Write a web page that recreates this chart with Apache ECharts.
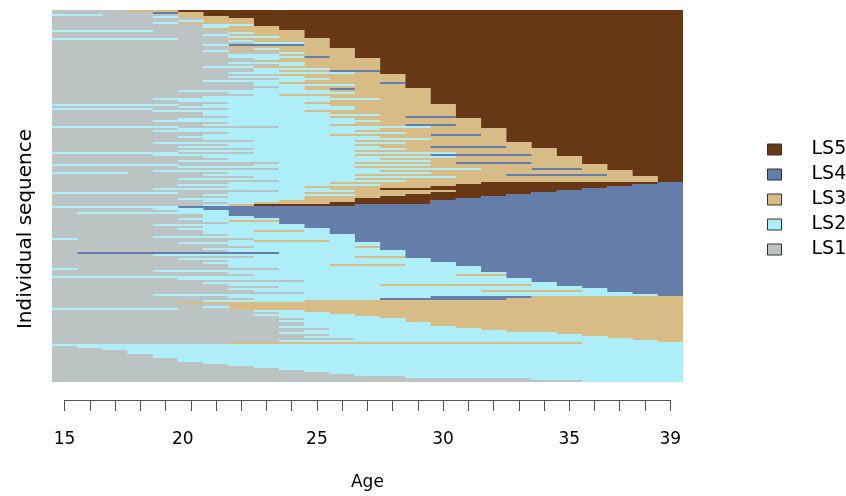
<!DOCTYPE html>
<html>
<head>
<meta charset="utf-8">
<script src="https://cdn.jsdelivr.net/npm/echarts@6/dist/echarts.min.js"></script>
<style>
  html, body { margin: 0; padding: 0; background: #fff; }
  #chart { width: 846px; height: 496px; }
</style>
</head>
<body>
<div id="chart"></div>
<script>
// states and their colours
const stateNames = ['LS1', 'LS2', 'LS3', 'LS4', 'LS5'];
const stateColors = ['#bcc3c3', '#aeeef8', '#d8bc85', '#647dab', '#673716'];
const legendOrder = ['LS5', 'LS4', 'LS3', 'LS2', 'LS1'];

// ages 15..39, one column each
const ages = [15, 16, 17, 18, 19, 20, 21, 22, 23, 24, 25, 26, 27, 28, 29,
              30, 31, 32, 33, 34, 35, 36, 37, 38, 39];
const ageTickLabels = [15, 20, 25, 30, 35, 39];

// one string per individual (top row first), one digit per age = state 1..5
// spaces only split ages in blocks of five
const seqLS5 = [
  '11133 55555 55555 55555 55555',
  '11114 35555 55555 55555 55555',
  '22111 35555 55555 55555 55555',
  '11112 33555 55555 55555 55555',
  '11111 13355 55555 55555 55555',
  '11111 23355 55555 55555 55555',
  '11112 33355 55555 55555 55555',
  '11111 12255 55555 55555 55555',
  '11111 12335 55555 55555 55555',
  '11111 13335 55555 55555 55555',
  '22221 11333 55555 55555 55555',
  '11111 11233 55555 55555 55555',
  '11111 12333 55555 55555 55555',
  '11111 11223 55555 55555 55555',
  '22222 11333 35555 55555 55555',
  '11111 11233 35555 55555 55555',
  '11111 11122 35555 55555 55555',
  '11111 12444 35555 55555 55555',
  '11111 11333 35555 55555 55555',
  '11111 11123 33555 55555 55555',
  '11111 12333 33555 55555 55555',
  '11111 11112 33555 55555 55555',
  '11111 11223 33555 55555 55555',
  '11111 11222 43555 55555 55555',
  '11111 11123 33355 55555 55555',
  '11111 11133 33355 55555 55555',
  '11111 11222 33355 55555 55555',
  '11111 11112 33355 55555 55555',
  '11111 12233 33355 55555 55555',
  '11111 11122 23355 55555 55555',
  '11111 11123 34455 55555 55555',
  '11111 11222 22355 55555 55555',
  '11111 11113 33335 55555 55555',
  '11111 11222 33335 55555 55555',
  '11111 11112 23335 55555 55555',
  '11111 12222 33335 55555 55555',
  '11111 11123 33345 55555 55555',
  '11111 11122 22335 55555 55555',
  '11111 11112 33335 55555 55555',
  '11111 11122 34333 55555 55555',
  '11111 22222 23333 55555 55555',
  '11111 11222 22333 55555 55555',
  '11111 11123 33333 55555 55555',
  '11111 12222 23333 55555 55555',
  '11112 22222 22233 55555 55555',
  '11111 22222 23333 55555 55555',
  '11111 11222 33333 55555 55555',
  '22222 12222 23333 35555 55555',
  '11111 22222 22333 35555 55555',
  '22221 11222 22333 35555 55555',
  '11112 22222 33333 35555 55555',
  '11111 12222 23333 35555 55555',
  '11111 12222 22233 35555 55555',
  '11111 11222 23334 45555 55555',
  '11111 22222 22333 33555 55555',
  '11112 22222 22233 33555 55555',
  '11111 11222 22333 33555 55555',
  '11111 12222 23334 43555 55555',
  '22222 11112 22222 33555 55555',
  '11111 22222 22233 33355 55555',
  '11112 22222 22333 33355 55555',
  '11111 11222 22223 33355 55555',
  '11111 12222 23333 44355 55555',
  '11111 22222 22233 33355 55555',
  '11111 12222 22222 33355 55555',
  '11111 11122 22333 33355 55555',
  '11112 22222 22223 33335 55555',
  '11111 11222 22333 33335 55555',
  '11111 22222 22233 44435 55555',
  '11111 11122 22223 33333 55555',
  '11111 22222 22333 33333 55555',
  '22222 11122 22222 23333 55555',
  '11112 22222 22333 44443 55555',
  '11111 12222 22222 23333 35555',
  '11111 11222 22233 33333 35555',
  '11111 22222 22222 33333 35555',
  '11111 11112 22333 34443 35555',
  '22222 11122 22222 33333 33555',
  '11111 22222 22333 33333 33555',
  '11111 11112 22222 22334 43555',
  '11112 22222 22233 33333 33355',
  '22211 11222 22222 33333 33355',
  '11111 12222 22333 33344 44355',
  '11111 11122 22222 23333 33335',
  '11111 22222 22333 33333 33335',
  '11111 11112 22223 33333 33335'
];

const seqLS4 = [
  '11111 11222 23333 33555 55554',
  '11111 22222 22233 35555 55544',
  '11111 11222 33333 55555 55444',
  '11112 22222 23355 55555 54444',
  '11111 11112 22333 35555 44444',
  '22222 11222 33333 55554 44444',
  '11111 12222 22335 55544 44444',
  '11111 11222 33355 55444 44444',
  '11111 22222 33555 54444 44444',
  '11111 12223 33555 44444 44444',
  '11111 11233 35555 44444 44444',
  '11111 12355 55444 44444 44444',
  '22222 44444 44444 44444 44444',
  '11112 24444 44444 44444 44444',
  '11111 22444 44444 44444 44444',
  '12222 22444 44444 44444 44444',
  '11111 12444 44444 44444 44444',
  '11111 12244 44444 44444 44444',
  '11111 22224 44444 44444 44444',
  '11111 12334 44444 44444 44444',
  '11111 11224 44444 44444 44444',
  '11112 22222 44444 44444 44444',
  '11111 12222 44444 44444 44444',
  '11111 22222 24444 44444 44444',
  '11111 12233 24444 44444 44444',
  '11111 12222 24444 44444 44444',
  '11111 11222 22444 44444 44444',
  '11112 22222 22444 44444 44444',
  '21111 11122 22444 44444 44444',
  '11111 11233 32444 44444 44444',
  '11111 22222 22244 44444 44444',
  '11111 11222 22244 44444 44444',
  '11111 11122 22344 44444 44444',
  '11111 12222 22244 44444 44444',
  '11111 11222 22224 44444 44444',
  '14444 44442 22224 44444 44444',
  '11112 22222 22224 44444 44444',
  '11111 11122 22334 44444 44444',
  '11111 22222 22222 44444 44444',
  '11111 11222 22222 44444 44444',
  '11111 12222 22222 24444 44444',
  '11111 11222 23332 24444 44444',
  '11111 11222 22222 22444 44444',
  '21111 11112 22222 22444 44444',
  '11112 22222 22222 22444 44444',
  '11111 11222 22222 22244 44444',
  '11111 11122 22222 23344 44444',
  '22222 22222 22222 22244 44444',
  '11111 22222 22222 22224 44444',
  '11111 11111 22222 22224 44444',
  '11111 12222 22222 22222 44444',
  '11111 11222 22233 33332 44444',
  '11111 11112 22222 22222 24444',
  '11111 11222 22222 22222 22444',
  '11111 11122 22222 22333 32444',
  '11111 11111 22222 22222 22244',
  '11112 22222 22222 22222 22224'
];

const seqLS3 = [
  '11111 11222 22222 44443 33333',
  '11111 11122 22244 44433 33333',
  '11111 12222 33333 33333 33333',
  '11111 33333 33333 33333 33333',
  '11111 11333 33333 33333 33333',
  '11111 12333 33333 33333 33333',
  '22222 11333 33333 33333 33333',
  '11111 11122 33333 33333 33333',
  '11111 11112 23333 33333 33333',
  '11111 11122 22333 33333 33333',
  '11111 11112 22233 33333 33333',
  '11111 11111 22223 33333 33333',
  '11111 11112 22223 33333 33333',
  '11111 11111 22222 33333 33333',
  '11111 11111 22222 33333 33333',
  '11111 11112 22222 23333 33333',
  '11111 11111 12222 22333 33333',
  '11111 11111 22222 22233 33333',
  '11111 11112 22222 22222 33333',
  '11111 11111 12222 22222 23333',
  '11111 11111 22222 22222 22333',
  '11111 11111 11222 22222 22233',
  '11111 11112 22222 22222 22223'
];

const seqLS2 = [
  '11111 11333 33333 33333 32222',
  '22222 22222 22222 22222 22222',
  '12222 22222 22222 22222 22222',
  '11222 22222 22222 22222 22222',
  '11122 22222 22222 22222 22222',
  '11122 22222 22222 22222 22222',
  '11112 22222 22222 22222 22222',
  '11112 22222 22222 22222 22222',
  '11111 22222 22222 22222 22222',
  '11111 22222 22222 22222 22222',
  '11111 12222 22222 22222 22222',
  '11111 11222 22222 22222 22222',
  '11111 11122 22222 22222 22222',
  '11111 11112 22222 22222 22222',
  '11111 11111 22222 22222 22222',
  '11111 11111 12222 22222 22222',
  '11111 11111 11222 22222 22222',
  '11111 11111 11112 22222 22222',
  '11111 11111 11111 11112 22222',
  '11111 11111 11111 11111 12222'
];

const sequences = seqLS5.concat(seqLS4, seqLS3, seqLS2);
const nRows = sequences.length;

// split every sequence into runs of one state: [firstAge, lastAge, row]
const runsByState = stateNames.map(() => []);
sequences.forEach((s, row) => {
  const codes = s.replace(/ /g, '');
  let start = 0;
  for (let i = 1; i <= codes.length; i++) {
    if (i === codes.length || codes[i] !== codes[start]) {
      runsByState[Number(codes[start]) - 1].push([ages[start], ages[i - 1], row]);
      start = i;
    }
  }
});

function renderRun(params, api) {
  const p0 = api.coord([api.value(0) - 0.5, api.value(2)]);
  const p1 = api.coord([api.value(1) + 0.5, api.value(2) + 1]);
  return {
    type: 'rect',
    shape: {
      x: p0[0],
      y: Math.min(p0[1], p1[1]),
      width: p1[0] - p0[0],
      height: Math.abs(p1[1] - p0[1])
    },
    style: { fill: api.visual('color') }
  };
}

const font = 'DejaVu Sans';
const chart = echarts.init(document.getElementById('chart'), null, { renderer: 'canvas' });

chart.setOption({
  animation: false,
  textStyle: { fontFamily: font },
  grid: [
    { left: 52, right: 163, top: 10, bottom: 114 },
    { left: 64.6, right: 175.8, top: 399, height: 1 },
    { left: 52, width: 1, top: 10, height: 438 }   // holds the y title only
  ],
  xAxis: [
    { type: 'value', gridIndex: 0, min: 14.5, max: 39.5, show: false },
    {
      type: 'value', gridIndex: 1, min: 15, max: 39, interval: 1,
      name: 'Age', nameLocation: 'middle', nameGap: 74,
      nameTextStyle: { fontSize: 17, color: '#000', fontFamily: font },
      axisLine: { show: true, lineStyle: { color: '#555', width: 1 } },
      axisTick: { show: true, length: 11, lineStyle: { color: '#555' } },
      axisLabel: {
        margin: 31, fontSize: 17, color: '#000', fontFamily: font,
        // the "20" sits a little left of its tick in the original
        formatter: v => {
          if (ageTickLabels.indexOf(v) < 0) return '';
          return v === 20 ? '{shift|20}' : String(v);
        },
        rich: { shift: { fontSize: 17, color: '#000', fontFamily: font, padding: [0, 16, 0, 0] } }
      },
      splitLine: { show: false }
    },
    { type: 'value', gridIndex: 2, show: false }
  ],
  yAxis: [
    {
      type: 'value', gridIndex: 0, min: 0, max: nRows, inverse: true,
      axisLine: { show: false }, axisTick: { show: false },
      axisLabel: { show: false }, splitLine: { show: false }
    },
    { type: 'value', gridIndex: 1, show: false },
    {
      type: 'value', gridIndex: 2, min: 0, max: 1,
      name: 'Individual sequence', nameLocation: 'middle', nameRotate: 90, nameGap: 16,
      nameTextStyle: { fontSize: 20, color: '#000', fontFamily: font },
      axisLine: { show: false }, axisTick: { show: false },
      axisLabel: { show: false }, splitLine: { show: false }
    }
  ],
  legend: {
    data: legendOrder,
    orient: 'vertical',
    left: 762,
    top: 135,
    itemWidth: 14,
    itemHeight: 11,
    itemGap: 6,
    icon: 'rect',
    selectedMode: false,
    itemStyle: { borderColor: '#333', borderWidth: 1 },
    textStyle: { fontSize: 19, color: '#000', fontFamily: font, padding: [0, 0, 0, 25] }
  },
  series: stateNames.map((name, k) => ({
    name: name,
    type: 'custom',
    xAxisIndex: 0,
    yAxisIndex: 0,
    renderItem: renderRun,
    itemStyle: { color: stateColors[k] },
    encode: { x: [0, 1], y: 2 },
    data: runsByState[k]
  }))
});
</script>
</body>
</html>
